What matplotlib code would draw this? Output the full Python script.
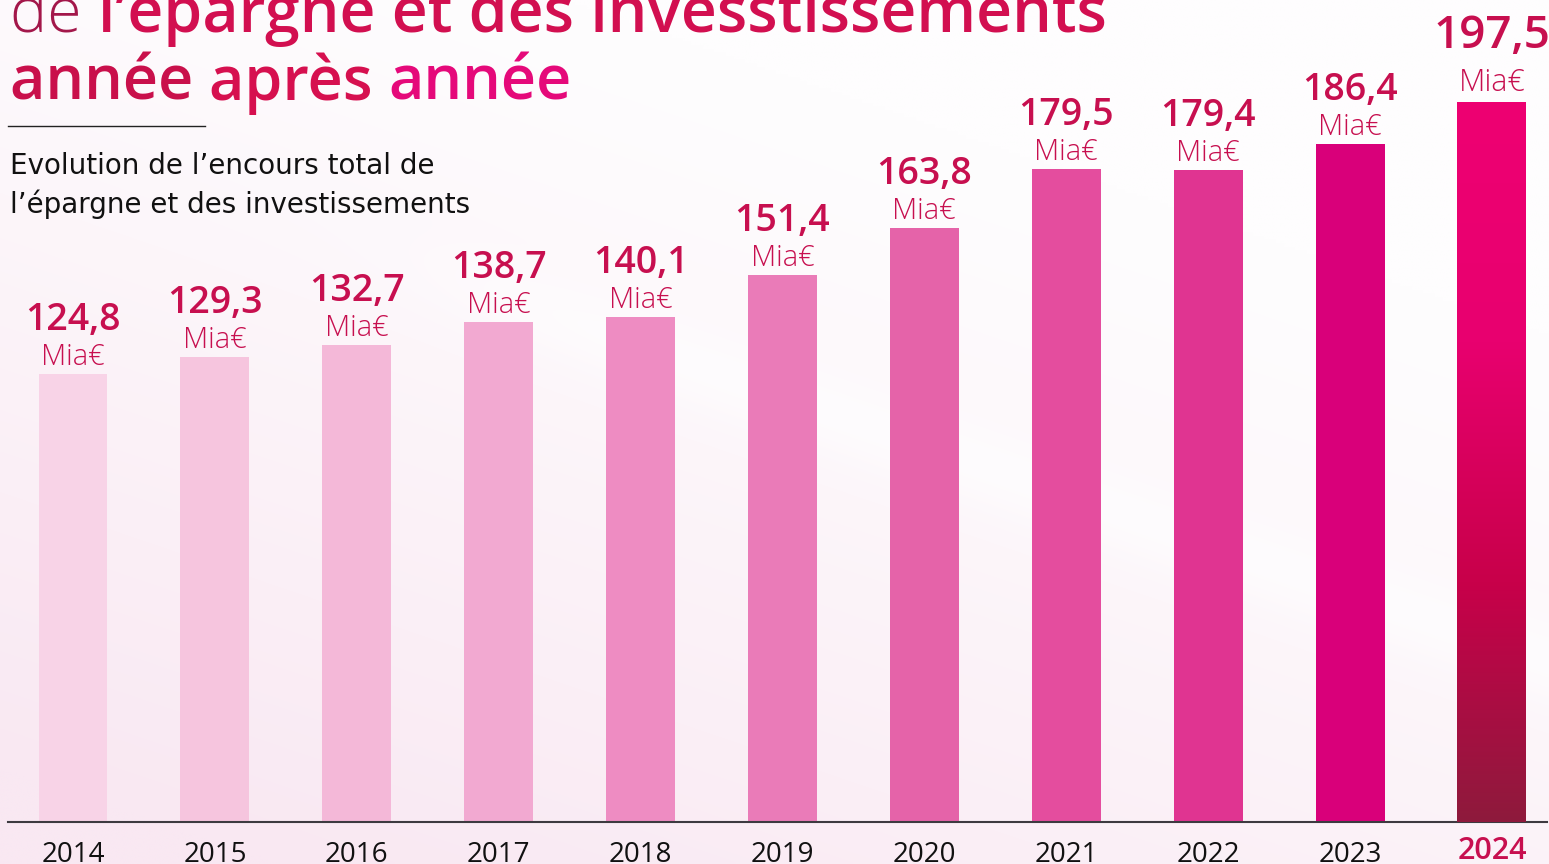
import numpy as np
import matplotlib
matplotlib.use('Agg')
import matplotlib.pyplot as plt
from matplotlib.colors import LinearSegmentedColormap, to_rgb
import matplotlib.transforms as mtransforms

# ---------------- data ----------------
years = ['2014', '2015', '2016', '2017', '2018', '2019', '2020', '2021', '2022', '2023', '2024']
values = [124.8, 129.3, 132.7, 138.7, 140.1, 151.4, 163.8, 179.5, 179.4, 186.4, 197.5]
value_labels = ['124,8', '129,3', '132,7', '138,7', '140,1', '151,4', '163,8', '179,5', '179,4', '186,4', '197,5']
unit_label = 'Mia€'
bar_colors = ['#f8d3e7', '#f6c5de', '#f4b8d8', '#f2a9d1', '#ee8cc2', '#ea7bb8',
              '#e563a9', '#e44d9e', '#e03491', '#d9007a', '#e8006f']
title_line1 = [('de ', '#a3174a', 'light'), ("l’épargne et des invesstissements", '#d20f50', 'semibold')]
title_line2 = [('année ', '#c9104b', 'semibold'), ('après ', '#d6104f', 'semibold'), ('année', '#e5097a', 'semibold')]
subtitle = ["Evolution de l’encours total de", "l’épargne et des investissements"]

FONT = 'Open Sans'
plt.rcParams['font.family'] = [FONT, 'DejaVu Sans']

W, H = 1549, 864
fig = plt.figure(figsize=(W / 100, H / 100), dpi=100)
fig.patch.set_facecolor('#fefcfd')

# ---------------- background ----------------
bg = fig.add_axes([0, 0, 1, 1], zorder=-5)
bg.set_axis_off()
uu, vv = np.meshgrid(np.linspace(0, 1, 400), np.linspace(0, 1, 240))  # vv: 0 top -> 1 bottom
w = np.clip(0.2 + 0.9 * vv - 0.55 * uu, 0, 1) ** 1.2
band = np.exp(-((vv - (0.33 + 0.62 * (uu - 0.3))) / 0.05) ** 2)
band *= 1 / (1 + np.exp(-(uu - 0.3) / 0.04))
w = np.clip(w * (1 - 0.8 * band), 0, 1)
white = np.array(to_rgb('#fefdfe'))
pink = np.array(to_rgb('#f9e8f2'))
img = white[None, None, :] * (1 - w[..., None]) + pink[None, None, :] * w[..., None]
bg.imshow(img, extent=[0, 1, 0, 1], aspect='auto', origin='upper', interpolation='bilinear')
bg.set_xlim(0, 1); bg.set_ylim(0, 1)

# ---------------- bars ----------------
base_px = 822
ax = fig.add_axes([8 / W, (H - base_px) / H, 1539 / W, base_px / H])
ax.patch.set_alpha(0)
x = np.arange(len(years))
ax.set_xlim(-0.458, 10.388)
ax.set_ylim(5.05, 224.8)
bw = 0.486
bars = ax.bar(x, values, width=bw, color=bar_colors, zorder=2)

# gradient on the last bar
cmap = LinearSegmentedColormap.from_list('g', ['#8e1a3c', '#c8004a', '#e8006f', '#ee0072'])
grad = np.linspace(0, 1, 256)[:, None]
xl = x[-1]
im = ax.imshow(grad, cmap=cmap, origin='lower', aspect='auto',
               extent=[xl - bw / 2, xl + bw / 2, 5.05, values[-1]], zorder=3)
im.set_clip_path(bars[-1])
ax.set_xlim(-0.458, 10.388)
ax.set_ylim(5.05, 224.8)

for s in ['top', 'right', 'left']:
    ax.spines[s].set_visible(False)
ax.spines['bottom'].set_color('#3d3a40')
ax.spines['bottom'].set_linewidth(1.5)
ax.set_yticks([])
ax.set_xticks([])

val_color = '#c70f4f'
for i, (xi, v) in enumerate(zip(x, values)):
    last = i == len(x) - 1
    ax.annotate(value_labels[i], xy=(xi, v), xytext=(0, (54 if last else 44) * 0.72),
                textcoords='offset points', ha='center', va='baseline',
                fontsize=33 if last else 27, fontweight='semibold', color=val_color, zorder=5)
    ax.annotate(unit_label, xy=(xi, v), xytext=(0, (11 if last else 9) * 0.72),
                textcoords='offset points', ha='center', va='baseline',
                fontsize=22 if last else 21, fontweight='light', color=val_color, zorder=5)
    ax.annotate(years[i], xy=(xi, 5.05), xytext=(0, -((859 if last else 862) - base_px) * 0.72),
                textcoords='offset points', ha='center', va='baseline',
                fontsize=22 if last else 20, fontweight='semibold' if last else 'normal',
                color='#c70f4f' if last else '#111111', zorder=5, annotation_clip=False)

# ---------------- title & subtitle ----------------
renderer = fig.canvas.get_renderer()
pix = mtransforms.IdentityTransform()


def place_runs(runs, x0, y_base, size):
    xp = x0
    for txt, col, wt in runs:
        t = fig.text(xp, H - y_base, txt, transform=pix, fontsize=size, fontweight=wt,
                     color=col, ha='left', va='baseline')
        bb = t.get_window_extent(renderer)
        xp = bb.x1
    return xp


place_runs(title_line1, 10, 32, 45)
place_runs(title_line2, 10, 100, 44)

fig.add_artist(plt.Line2D([8 / W, 205 / W], [(H - 126) / H] * 2, color='#222222', lw=1.0,
                          transform=fig.transFigure))
fig.text(10 / W, (H - 174) / H, subtitle[0], fontsize=20, color='#111111', va='baseline', ha='left',
         family=['DejaVu Sans'])
fig.text(10 / W, (H - 213) / H, subtitle[1], fontsize=20, color='#111111', va='baseline', ha='left',
         family=['DejaVu Sans'])

fig.savefig('out.png', dpi=100, facecolor=fig.get_facecolor())
